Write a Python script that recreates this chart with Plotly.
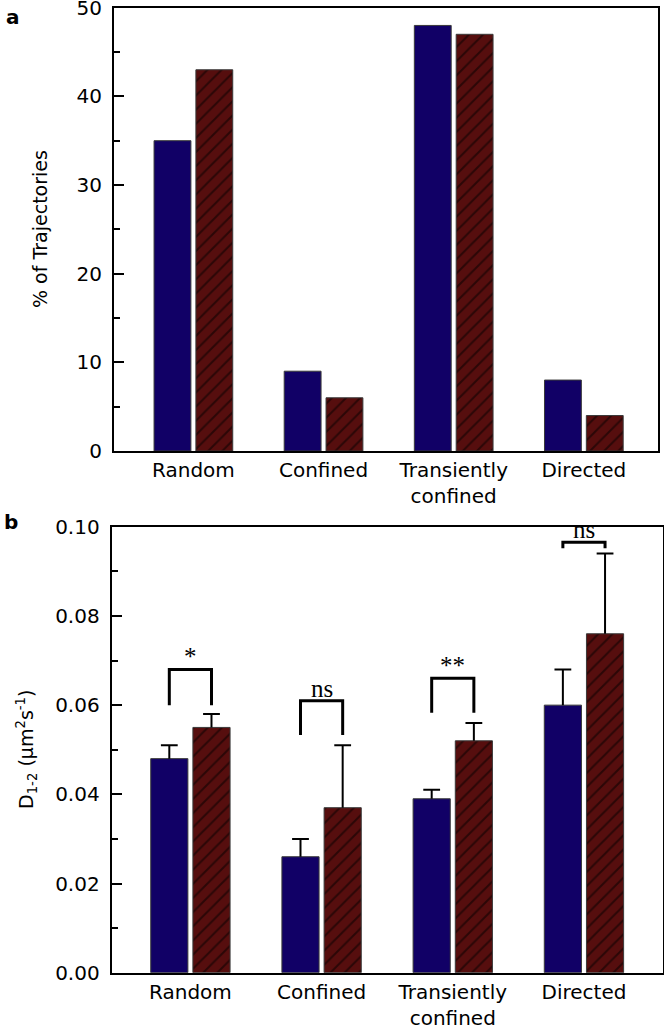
import plotly.graph_objects as go

categories = ["Random", "Confined", "Transiently<br>confined", "Directed"]

# Panel a: % of trajectories
pct_ctrl = [35, 9, 48, 8]
pct_treat = [43, 6, 47, 4]

# Panel b: D1-2 (um^2 s^-1), mean and upper error
d_ctrl = [0.048, 0.026, 0.039, 0.060]
d_ctrl_err = [0.003, 0.004, 0.002, 0.008]
d_treat = [0.055, 0.037, 0.052, 0.076]
d_treat_err = [0.003, 0.014, 0.004, 0.018]

# significance brackets (panel b)
sig_labels = ["*", "ns", "**", "ns"]
sig_top = [0.068, 0.061, 0.066, 0.0965]
sig_leg = [0.060, 0.0533, 0.0583, 0.0952]

yticks_a = [0, 10, 20, 30, 40, 50]
yticks_b = [0.00, 0.02, 0.04, 0.06, 0.08, 0.10]

BLUE = "#110066"
RED = "#560e0e"
BARGAP = 0.357
BARGROUPGAP = 0.119

xpos = list(range(len(categories)))
hatch = dict(shape="/", fgcolor="black", bgcolor=RED, size=10, solidity=0.2)
outline = dict(color="#3a3a3a", width=1)

slot = (1 - BARGAP) / 2
x_ctrl = [i - slot / 2 for i in xpos]
x_treat = [i + slot / 2 for i in xpos]

fig = go.Figure()
fig.add_trace(go.Bar(x=xpos, y=pct_ctrl, marker=dict(color=BLUE, line=outline),
                     xaxis="x", yaxis="y", showlegend=False))
fig.add_trace(go.Bar(x=xpos, y=pct_treat, marker=dict(color=RED, line=outline, pattern=hatch),
                     xaxis="x", yaxis="y", showlegend=False))

eb = dict(type="data", symmetric=False, color="black", thickness=2, width=0)
fig.add_trace(go.Bar(x=xpos, y=d_ctrl, marker=dict(color=BLUE, line=outline),
                     error_y=dict(eb, array=d_ctrl_err, arrayminus=[0] * 4),
                     xaxis="x2", yaxis="y2", showlegend=False))
fig.add_trace(go.Bar(x=xpos, y=d_treat, marker=dict(color=RED, line=outline, pattern=hatch),
                     error_y=dict(eb, array=d_treat_err, arrayminus=[0] * 4),
                     xaxis="x2", yaxis="y2", showlegend=False))

# error bar caps (top only)
caps_y = [v + e for v, e in zip(d_ctrl, d_ctrl_err)] + [v + e for v, e in zip(d_treat, d_treat_err)]
fig.add_trace(go.Scatter(x=x_ctrl + x_treat, y=caps_y, mode="markers",
                         marker=dict(symbol="line-ew-open", size=12, color="black",
                                     line=dict(color="black", width=2)),
                         xaxis="x2", yaxis="y2", showlegend=False, hoverinfo="skip"))

# brackets
for i, (lab, top, leg) in enumerate(zip(sig_labels, sig_top, sig_leg)):
    x0, x1 = x_ctrl[i], x_treat[i]
    fig.add_shape(type="path", xref="x2", yref="y2",
                  path=f"M {x0},{leg} L {x0},{top} L {x1},{top} L {x1},{leg}",
                  line=dict(color="black", width=3))
    fig.add_annotation(x=i, y=top, xref="x2", yref="y2", text=lab, showarrow=False,
                       yanchor="bottom", yshift=-3,
                       font=dict(family="Liberation Serif", size=25, color="black"))

tickfont = dict(family="DejaVu Sans", size=20, color="black")
titlefont = dict(family="DejaVu Sans", size=19, color="black")

common_x = dict(tickmode="array", tickvals=xpos, ticktext=categories, ticks="",
                showline=True, linecolor="black", linewidth=2, mirror=True,
                showgrid=False, zeroline=False, tickfont=tickfont, automargin=False,
                ticklabeloverflow="allow")
common_y = dict(ticks="inside", ticklen=10, tickwidth=2, tickcolor="black",
                showline=True, linecolor="black", linewidth=2, mirror=True,
                showgrid=False, zeroline=False, tickfont=tickfont, ticklabelstandoff=6,
                automargin=False, ticklabeloverflow="allow")

fig.update_layout(
    width=664, height=1028,
    margin=dict(l=0, r=0, t=0, b=0, autoexpand=False),
    paper_bgcolor="white", plot_bgcolor="white",
    barmode="group", bargap=BARGAP, bargroupgap=BARGROUPGAP,
    xaxis=dict(common_x, domain=[0.1717, 0.991], range=[-0.61, 3.57], anchor="y"),
    yaxis=dict(common_y, domain=[0.5613, 0.9925], range=[0, 50], tickvals=yticks_a,
               minor=dict(ticks="inside", ticklen=6, tickwidth=2, tickcolor="black", dtick=5),
               anchor="x"),
    xaxis2=dict(common_x, domain=[0.1682, 0.998], range=[-0.6, 3.6], anchor="y2"),
    yaxis2=dict(common_y, domain=[0.0538, 0.4876], range=[0, 0.10], tickvals=yticks_b,
                tickformat=".2f",
                minor=dict(ticks="inside", ticklen=6, tickwidth=2, tickcolor="black", dtick=0.01),
                anchor="x2"),
)

# axis titles
fig.add_annotation(x=40 / 664, y=1 - 229 / 1028, xref="paper", yref="paper",
                   text="% of Trajectories", textangle=-90, showarrow=False,
                   xanchor="center", yanchor="middle", font=titlefont)
fig.add_annotation(x=26 / 664, y=1 - 750 / 1028, xref="paper", yref="paper",
                   text="D<sub>1-2</sub> (μm<sup>2</sup>s<sup>-1</sup>)", textangle=-90, showarrow=False,
                   xanchor="center", yanchor="middle", font=titlefont)

fig.add_annotation(x=0.006, y=0.997, xref="paper", yref="paper", text="<b>a</b>", showarrow=False,
                   xanchor="left", yanchor="top", font=dict(family="DejaVu Sans", size=20, color="black"))
fig.add_annotation(x=0.003, y=0.506, xref="paper", yref="paper", text="<b>b</b>", showarrow=False,
                   xanchor="left", yanchor="top", font=dict(family="DejaVu Sans", size=20, color="black"))

fig.write_html("out.html", config={"displayModeBar": False},
               post_script="document.body.style.margin='0';document.body.style.overflow='hidden';")
